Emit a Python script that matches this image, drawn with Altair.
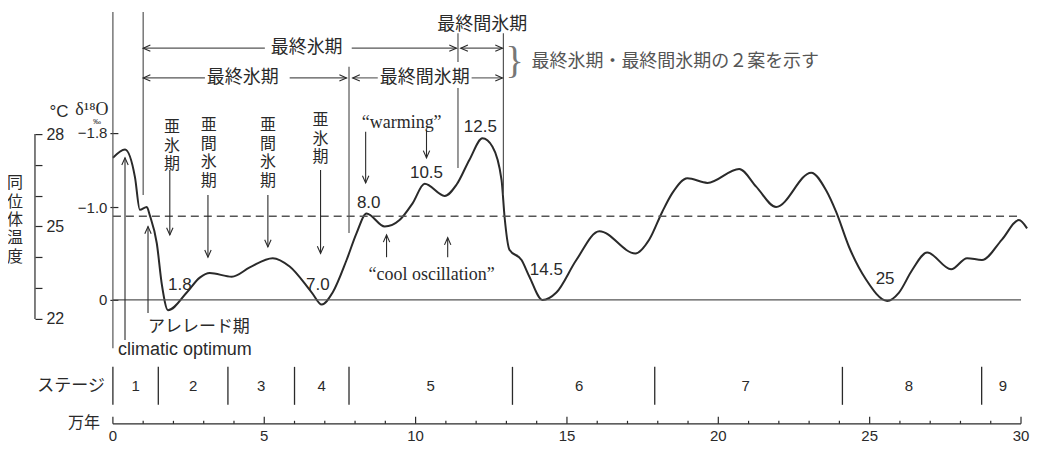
import altair as alt
import pandas as pd

# ---------------- data ----------------
# time in 10^4 years (万年) and delta-18O (permil)
time_10ka = [0.0, 0.40, 0.73, 0.89, 1.12, 1.22, 1.45, 1.62, 1.82, 2.44, 2.87, 3.20,
             3.93, 4.52, 5.28, 5.84, 6.57, 6.90, 7.26, 7.72, 8.05, 8.38, 8.98, 9.47,
             9.90, 10.30, 10.96, 11.35, 11.78, 12.21, 12.54, 12.84, 12.94, 13.10, 13.50,
             13.76, 14.19, 14.65, 15.31, 16.07, 17.26, 17.72, 18.15, 18.48, 18.98, 19.64,
             20.69, 21.25, 21.91, 23.07, 23.56, 23.89, 24.32, 24.88, 25.58, 25.97, 26.40,
             26.90, 27.69, 28.22, 28.71, 29.37, 29.93, 30.20]
d18o = [-1.53, -1.62, -1.32, -0.97, -1.00, -0.91, -0.61, -0.16, 0.11, -0.08, -0.24, -0.29,
        -0.25, -0.35, -0.45, -0.36, -0.08, 0.05, -0.08, -0.43, -0.72, -0.93, -0.79, -0.86,
        -1.04, -1.25, -1.12, -1.24, -1.51, -1.74, -1.65, -1.29, -0.89, -0.54, -0.43,
        -0.25, 0.00, -0.08, -0.43, -0.74, -0.50, -0.65, -0.95, -1.15, -1.31, -1.26,
        -1.41, -1.22, -1.00, -1.37, -1.18, -0.95, -0.57, -0.22, 0.01, -0.08, -0.32,
        -0.51, -0.33, -0.45, -0.43, -0.65, -0.86, -0.77]

y_ticks = [-1.8, -1.0, 0.0]
x_major = [0, 5, 10, 15, 20, 25, 30]
x_major_labels = ["0", "5", "10", "15", "20", "25", "30"]
x_minor = [1, 2, 3, 4, 6, 7, 8, 9, 11, 12, 13, 14, 16, 17, 18, 19, 21, 22, 23, 24, 26, 27, 28, 29]
x_span = [0, 30]

zero_level = [0.0]
mean_level = [-0.9]

stage_bounds = [0, 1.5, 3.8, 6.0, 7.8, 13.2, 17.9, 24.1, 28.7]
stage_label_t = [0.75, 2.65, 4.9, 6.9, 10.5, 15.4, 20.9, 26.3, 29.4]
stage_names = ["1", "2", "3", "4", "5", "6", "7", "8", "9"]

temp_ticks = [22, 23, 24, 25, 26, 27, 28]
temp_lo = [22]
temp_hi = [28]

# boundary lines of the two glacial / interglacial schemes
vline_t = [0.0, 1.0, 7.8, 11.4, 11.4, 12.9]
vline_top = [-3.10, -3.10, -2.51, -2.87, -2.28, -2.87]
vline_bot = [0.52, -1.13, -0.72, -2.56, -1.42, -1.13]

# horizontal arrow shafts
seg_t1 = [1.0, 7.89, 11.49, 1.0, 5.84, 7.92, 11.85]
seg_t2 = [5.02, 11.35, 12.87, 3.04, 7.72, 8.75, 12.87]
seg_v = [-2.71, -2.71, -2.71, -2.39, -2.39, -2.39, -2.39]

# vertical arrow shafts (tail -> head)
arr_t = [1.88, 3.14, 5.12, 6.86, 8.35, 10.36, 0.40, 1.16, 9.04, 11.06]
arr_tail = [-1.40, -1.13, -1.13, -1.40, -1.81, -1.83, 0.43, 0.14, -0.46, -0.46]
arr_head = [-0.70, -0.46, -0.57, -0.50, -1.26, -1.53, -1.53, -0.79, -0.70, -0.67]
arr_dir = ["down", "down", "down", "down", "down", "down", "up", "up", "up", "up"]

# arrowheads of the horizontal arrows
hhead_t = [1.0, 11.35, 11.49, 12.87, 1.0, 7.72, 7.92, 12.87]
hhead_v = [-2.71, -2.71, -2.71, -2.71, -2.39, -2.39, -2.39, -2.39]
hhead_dir = ["left", "right", "left", "right", "left", "right", "left", "right"]

period_text = ["最終氷期", "最終氷期", "最終間氷期", "最終間氷期"]
period_t = [6.4, 4.29, 10.3, 12.2]
period_v = [-2.71, -2.39, -2.39, -2.96]

value_text = ["8.0", "10.5", "12.5", "1.8", "7.0", "14.5", "25"]
value_t = [8.45, 10.36, 12.14, 2.21, 6.77, 14.32, 25.51]
value_v = [-1.04, -1.37, -1.86, -0.16, -0.16, -0.32, -0.23]

# vertical (stacked) labels, positioned by their first character
column_text = ["亜\n氷\n期", "亜\n間\n氷\n期", "亜\n間\n氷\n期", "亜\n氷\n期"]
column_t = [1.95, 3.17, 5.12, 6.86]
column_v = [-1.86, -1.88, -1.88, -1.935]

serif_text = ["“warming”", "“cool oscillation”"]
serif_t = [9.54, 10.53]
serif_v = [-1.90, -0.27]

# ---------------- styling ----------------
INK = "#2a2a2a"
GREY = "#555555"
JP = "Noto Sans CJK JP"
SANS = "Liberation Sans"
SERIF = "Liberation Serif"
W, H = 909, 416

xs = alt.Scale(domain=[0, 30], nice=False, zero=False)
ys = alt.Scale(domain=[-3.14, 1.333], reverse=True, nice=False, zero=False)
ts = alt.Scale(domain=[18.594, 32.087], nice=False, zero=False)


def X(f):
    return alt.X(f, type="quantitative", scale=xs, axis=None)


def Y(f):
    return alt.Y(f, type="quantitative", scale=ys, axis=None)


def data_text(texts, t, v, font, size, align="center", color=INK, **kw):
    df = pd.DataFrame({"s": texts, "t": t, "v": v})
    return alt.Chart(df).mark_text(font=font, fontSize=size, align=align, baseline="middle",
                                   color=color, **kw).encode(x=X("t"), y=Y("v"), text="s:N")


def pixel_text(s, px, py, font, size, align="center", color=INK, **kw):
    return alt.Chart(pd.DataFrame({"s": [s]})).mark_text(
        font=font, fontSize=size, align=align, baseline="middle", color=color, **kw
    ).encode(x=alt.value(px), y=alt.value(py), text="s:N")


curve = alt.Chart(pd.DataFrame({"t": time_10ka, "v": d18o})).mark_line(
    interpolate="monotone", color=INK, strokeWidth=2
).encode(
    x=X("t"),
    y=alt.Y("v:Q", scale=ys, axis=alt.Axis(
        values=y_ticks, labelExpr="datum.value == 0 ? '0' : '\u2212' + format(-datum.value, '.1f')",
        offset=-5, tickSize=8, tickColor=INK, tickWidth=1.2, domain=False, grid=False,
        title=None, labelFont=SANS, labelFontSize=15, labelColor=INK, labelPadding=3,
        labelOverlap=False, orient="left")),
)

zero_line = alt.Chart(pd.DataFrame({"v": zero_level, "t0": [0], "t1": [30]})).mark_rule(
    color=GREY, strokeWidth=1.3).encode(x=X("t0"), x2="t1:Q", y=Y("v"))
mean_line = alt.Chart(pd.DataFrame({"v": mean_level, "t0": [0], "t1": [30]})).mark_rule(
    color=GREY, strokeWidth=1.5, strokeDash=[8, 5]).encode(x=X("t0"), x2="t1:Q", y=Y("v"))

vlines = alt.Chart(pd.DataFrame({"t": vline_t, "a": vline_top, "b": vline_bot})).mark_rule(
    color=GREY, strokeWidth=1.2).encode(x=X("t"), y=Y("a"), y2="b:Q")

hsegs = alt.Chart(pd.DataFrame({"t1": seg_t1, "t2": seg_t2, "v": seg_v})).mark_rule(
    color=GREY, strokeWidth=1.1).encode(x=X("t1"), x2="t2:Q", y=Y("v"))

vshafts = alt.Chart(pd.DataFrame({"t": arr_t, "a": arr_tail, "b": arr_head})).mark_rule(
    color=INK, strokeWidth=1.1).encode(x=X("t"), y=Y("a"), y2="b:Q")

heads_df = pd.DataFrame({
    "t": hhead_t + arr_t,
    "v": hhead_v + arr_head,
    "dir": hhead_dir + arr_dir,
})
head_shapes = alt.Scale(
    domain=["left", "right", "up", "down"],
    range=["M1.8,-0.8L0,0L1.8,0.8", "M-1.8,-0.8L0,0L-1.8,0.8",
           "M-0.8,1.8L0,0L0.8,1.8", "M-0.8,-1.8L0,0L0.8,-1.8"],
)
heads = alt.Chart(heads_df).mark_point(filled=False, color=INK, strokeWidth=1.1, size=64,
                                       opacity=1).encode(
    x=X("t"), y=Y("v"), shape=alt.Shape("dir:N", scale=head_shapes, legend=None))

periods = data_text(period_text, period_t, period_v, JP, 18)
values = data_text(value_text, value_t, value_v, SANS, 17)
columns = data_text(column_text, column_t, column_v, JP, 16, lineBreak="\n", lineHeight=18.5)
serif = data_text(serif_text, serif_t, serif_v, SERIF, 18)
allerod = data_text(["アレレード期"], [1.16], [0.29], JP, 17, align="left")
optimum = data_text(["climatic optimum"], [0.17], [0.54], SANS, 18, align="left")
brace = data_text(["}"], [13.27], [-2.56], SERIF, 38, color="#777777")
note = data_text(["最終氷期・最終間氷期の２案を示す"], [13.83], [-2.56], JP, 18, align="left",
                 color="#555555")

stage_lines = alt.Chart(pd.DataFrame({"t": stage_bounds})).mark_rule(
    color=INK, strokeWidth=1.3).encode(x=X("t"), y=alt.value(359), y2=alt.value(397))
stage_text = alt.Chart(pd.DataFrame({"t": stage_label_t, "s": stage_names})).mark_text(
    font=SANS, fontSize=15, color=INK, baseline="middle").encode(
    x=X("t"), y=alt.value(378), text="s:N")

# time axis (万年): baseline, upward ticks and labels
axis_line = alt.Chart(pd.DataFrame({"t0": [x_span[0]], "t1": [x_span[1]]})).mark_rule(
    color=INK, strokeWidth=1.3).encode(x=X("t0"), x2="t1:Q", y=alt.value(H))
major_ticks = alt.Chart(pd.DataFrame({"t": x_major})).mark_rule(
    color=INK, strokeWidth=1.2).encode(x=X("t"), y=alt.value(H), y2=alt.value(H - 7))
minor_ticks = alt.Chart(pd.DataFrame({"t": x_minor})).mark_rule(
    color=INK, strokeWidth=1.2).encode(x=X("t"), y=alt.value(H), y2=alt.value(H - 3))
x_labels = alt.Chart(pd.DataFrame({"t": x_major, "s": x_major_labels})).mark_text(
    font=SANS, fontSize=15, color=INK, baseline="middle").encode(
    x=X("t"), y=alt.value(H + 12), text="s:N")

left_texts = [
    pixel_text("°C", -54, 104, SANS, 17),
    pixel_text("δ¹⁸O", -21, 102, SERIF, 18),
    pixel_text("‰", -16, 114, SANS, 8),
    pixel_text("同\n位\n体\n温\n度", -98, 175, JP, 16, lineBreak="\n", lineHeight=18.5),
    pixel_text("ステージ", -8, 378, JP, 17, align="right"),
    pixel_text("万年", -13, H - 1, JP, 16, align="right"),
]

temp_axis = alt.Chart(pd.DataFrame({"lo": temp_lo, "hi": temp_hi})).mark_rule(
    color=INK, strokeWidth=1.2).encode(
    x=alt.value(-78),
    y=alt.Y("lo:Q", scale=ts, axis=alt.Axis(
        orient="right", offset=-(W + 78), values=temp_ticks,
        labelExpr="datum.value % 3 == 1 ? datum.label : ''",
        tickSize=7, tickColor=INK, tickWidth=1.2, domain=False, grid=False, title=None,
        labelFont=SANS, labelFontSize=16, labelColor=INK, labelPadding=4,
        labelOverlap=False)),
    y2="hi:Q",
)

chart = alt.layer(
    curve, zero_line, mean_line, vlines, hsegs, vshafts, heads,
    periods, values, columns, serif, allerod, optimum, brace, note,
    stage_lines, stage_text, axis_line, major_ticks, minor_ticks, x_labels,
    *left_texts, temp_axis,
).resolve_scale(y="independent").properties(
    width=W, height=H,
    autosize=alt.AutoSizeParams(type="none"),
    padding={"left": 105, "top": 0, "right": 10, "bottom": 20},
).configure_view(stroke=None)

chart.save("out.html", embed_options={"renderer": "svg", "actions": False})
